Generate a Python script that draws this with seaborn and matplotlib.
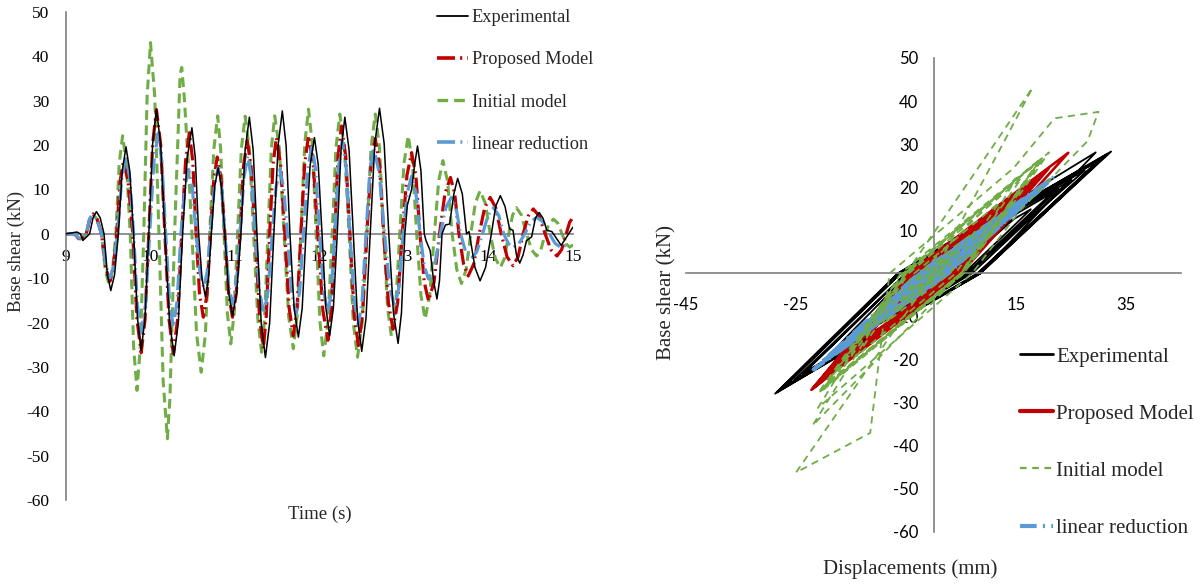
import matplotlib
matplotlib.use("Agg")
import matplotlib.pyplot as plt
import seaborn as sns
from matplotlib.lines import Line2D

# ---------------- data ----------------
series_names = ["Experimental", "Proposed Model", "Initial model", "linear reduction"]
time_ticks = [9, 10, 11, 12, 13, 14, 15]
shear_ticks = [-60, -50, -40, -30, -20, -10, 0, 10, 20, 30, 40, 50]
disp_ticks = [-45, -25, -5, 15, 35]

# Experimental: time (s), base shear (kN), displacement (mm)
exp_t = [9.00, 9.13, 9.17, 9.20, 9.28, 9.32, 9.36, 9.405, 9.45, 9.49, 9.53, 9.575, 9.62, 9.665,
         9.71, 9.755, 9.80, 9.845, 9.89, 9.935, 9.98, 10.025, 10.07, 10.12, 10.17, 10.225, 10.28,
         10.33, 10.38, 10.435, 10.49, 10.53, 10.57, 10.61, 10.65, 10.685, 10.72, 10.76, 10.80,
         10.84, 10.88, 10.925, 10.97, 11.02, 11.07, 11.12, 11.17, 11.215, 11.26, 11.31, 11.36,
         11.41, 11.46, 11.51, 11.56, 11.605, 11.65, 11.70, 11.75, 11.795, 11.84, 11.89, 11.94,
         11.985, 12.03, 12.075, 12.12, 12.165, 12.21, 12.255, 12.30, 12.35, 12.40, 12.45, 12.50,
         12.55, 12.60, 12.655, 12.71, 12.765, 12.82, 12.875, 12.93, 12.97, 13.01, 13.04, 13.09,
         13.125, 13.16, 13.20, 13.24, 13.26, 13.31, 13.35, 13.39, 13.42, 13.45, 13.49, 13.54,
         13.59, 13.635, 13.69, 13.74, 13.77, 13.84, 13.90, 13.965, 14.03, 14.085, 14.14, 14.195,
         14.25, 14.29, 14.33, 14.37, 14.41, 14.45, 14.51, 14.555, 14.60, 14.645, 14.69, 14.75,
         14.86, 15.00]
exp_v = [0.0, 0.4, 0.0, -1.5, 0.0, 3.6, 5.0, 3.6, 0.0, -9.2, -12.8, -9.2, 0.0, 14.1,
         19.6, 14.1, 0.0, -18.9, -26.3, -18.9, 0.0, 20.2, 28.1, 20.2, 0.0, -19.8, -27.5,
         -19.8, 0.0, 17.2, 23.9, 17.2, 0.0, -10.2, -14.2, -10.2, 0.0, 10.7, 14.9,
         10.7, 0.0, -13.3, -18.5, -13.3, 0.0, 18.9, 26.3, 18.9, 0.0, -20.1, -27.9,
         -20.1, 0.0, 19.9, 27.7, 19.9, 0.0, -16.8, -23.3, -16.8, 0.0, 15.6, 21.7,
         15.6, 0.0, -16.6, -23.0, -16.6, 0.0, 18.9, 26.3, 18.9, 0.0, -19.1, -26.5,
         -19.1, 0.0, 20.4, 28.3, 20.4, 0.0, -17.8, -24.7, -17.8, 0.0, 6.5, 10.0,
         15.5, 19.8, 14.3, 0.0, -1.5, -3.8, -10.6, -14.7, -10.6, 0.0, 2.0, 2.2,
         9.0, 12.5, 9.0, 0.0, 0.5, -7.6, -10.6, -7.6, -0.5, 6.2, 8.6, 6.2,
         1.1, 0.8, -4.7, -6.6, -4.7, -1.5, -0.7, 3.5, 4.8, 3.5, 0.8, 0.5,
         -2.6, 1.5]
exp_d = [0.0, 0.5, 0.3, -1.5, -1.0, 3.7, 5.5, 4.7, 2.5, -8.2, -12.4, -9.9, -3.5, 15.4,
         22.8, 18.2, 6.5, -17.7, -27.1, -21.3, -6.5, 19.4, 29.5, 23.6, 8.5, -18.1, -28.4,
         -22.1, -6.0, 18.1, 27.5, 21.5, 6.0, -8.4, -14.0, -10.8, -2.5, 12.0, 17.7,
         14.3, 5.5, -11.9, -18.6, -14.7, -4.5, 20.4, 30.1, 23.9, 8.0, -18.5, -28.8,
         -22.6, -6.5, 21.0, 31.6, 25.1, 8.5, -14.8, -23.8, -18.5, -5.0, 16.7, 25.1,
         20.0, 7.0, -15.0, -23.5, -18.3, -5.0, 20.3, 30.1, 23.9, 8.0, -17.4, -27.3,
         -21.3, -6.0, 21.6, 32.3, 25.6, 8.5, -15.8, -25.3, -19.6, -5.0, 2.5, 9.0,
         15.5, 22.5, 17.9, 6.0, 4.0, 0.5, -9.5, -14.5, -11.4, -3.5, -0.5, 1.0,
         10.0, 14.5, 11.4, 3.5, 3.0, -6.5, -10.5, -8.0, -2.5, 6.5, 10.0, 7.5,
         3.5, 2.5, -3.5, -6.0, -4.8, -2.5, -1.0, 4.0, 6.0, 5.0, 3.0, 2.0,
         -2.0, 1.0]

# Proposed Model
prop_t = [9.00, 9.10, 9.17, 9.24,
          9.28, 9.32, 9.37, 9.42, 9.47, 9.52, 9.56, 9.60, 9.64, 9.68, 9.735, 9.79,
          9.84, 9.89, 9.935, 9.98, 10.025, 10.07, 10.12, 10.17, 10.22, 10.27, 10.32, 10.37,
          10.415, 10.46, 10.50, 10.54, 10.58, 10.625, 10.67, 10.71, 10.75, 10.79, 10.835, 10.88,
          10.925, 10.97, 11.015, 11.06, 11.10, 11.145, 11.19, 11.24, 11.29, 11.335, 11.37, 11.41,
          11.45, 11.49, 11.54, 11.59, 11.64, 11.69, 11.735, 11.78, 11.825, 11.87, 11.925, 11.98,
          12.04, 12.10, 12.14, 12.18, 12.22, 12.26, 12.31, 12.36, 12.41, 12.46, 12.51, 12.56,
          12.61, 12.66, 12.71, 12.76, 12.815, 12.87, 12.925, 12.98, 13.035, 13.09, 13.14, 13.19,
          13.24, 13.29, 13.355, 13.42, 13.485, 13.55, 13.60, 13.65, 13.705, 13.76, 13.825, 13.89,
          13.955, 14.02, 14.085, 14.15, 14.22, 14.29, 14.35, 14.41, 14.47, 14.53, 14.60, 14.67,
          14.74, 14.81, 14.865, 14.92, 14.96, 15.00]
prop_v = [0.0, 0.0, -1.5, 0.0,
          3.2, 4.5, 3.2, 0.0, -7.7, -10.7, -7.7, 0.0, 11.8, 16.4, 11.8, 0.0,
          -19.3, -26.8, -19.3, 0.0, 20.2, 28.0, 20.2, 0.0, -19.4, -27.0, -19.4, 0.0,
          16.4, 22.8, 16.4, 0.0, -13.5, -18.8, -13.5, 0.0, 12.5, 17.3, 12.5, 0.0,
          -13.5, -18.8, -13.5, 0.0, 15.1, 21.0, 15.1, 0.0, -18.6, -25.9, -18.6, 0.0,
          15.6, 21.7, 15.6, 0.0, -16.6, -23.0, -16.6, 0.0, 15.9, 22.1, 15.9, 0.0,
          -17.3, -24.0, -17.3, 0.0, 17.5, 24.3, 17.5, 0.0, -18.1, -25.2, -18.1, 0.0,
          15.5, 21.5, 15.5, 0.0, -15.5, -21.5, -15.5, 0.0, 13.2, 18.3, 13.2, 0.0,
          -10.9, -15.1, -10.9, 0.0, 9.1, 12.7, 9.1, 0.0, -6.8, -9.5, -6.8, 0.0,
          5.9, 8.2, 5.9, 0.0, -5.2, -7.2, -5.2, 0.0, 4.0, 5.6, 4.0, 0.0,
          -3.6, -5.0, -3.6, 0.0, 2.6, 3.7]
prop_d = [0.0, 0.0, -1.0, -0.5,
          2.9, 4.2, 3.3, 1.0, -5.8, -8.5, -6.7, -2.0, 9.7, 14.3, 11.3, 3.5,
          -14.9, -22.0, -17.1, -4.5, 16.4, 24.5, 19.0, 5.0, -14.6, -22.2, -17.2, -4.5,
          12.9, 19.7, 15.2, 3.7, -10.0, -15.3, -11.9, -3.3, 9.9, 15.0, 11.7, 3.3,
          -10.1, -15.3, -12.0, -3.5, 12.1, 18.1, 14.2, 4.2, -14.2, -21.3, -16.5, -4.2,
          12.3, 18.7, 14.6, 4.0, -12.4, -18.8, -14.7, -4.0, 12.6, 19.1, 14.9, 4.2,
          -13.0, -19.7, -15.4, -4.3, 13.8, 20.9, 16.3, 4.5, -13.6, -20.7, -16.1, -4.2,
          12.2, 18.6, 14.5, 3.9, -11.6, -17.6, -13.7, -3.6, 10.4, 15.9, 12.3, 3.0,
          -7.9, -12.2, -9.5, -2.5, 7.4, 11.2, 8.6, 2.0, -4.8, -7.5, -5.9, -1.6,
          4.9, 7.4, 5.7, 1.4, -3.6, -5.6, -4.3, -1.1, 3.4, 5.2, 4.0, 1.0,
          -2.4, -3.7, -2.9, -0.8, 2.4, 3.6]

# Initial model
init_t = [9.00, 9.10, 9.17, 9.24,
          9.28, 9.32, 9.37, 9.42, 9.465, 9.51, 9.55, 9.59, 9.63, 9.67, 9.715, 9.76,
          9.80, 9.84, 9.88, 9.92, 9.96, 10.00, 10.05, 10.10,
          10.15, 10.20, 10.23, 10.285, 10.33, 10.35, 10.37, 10.40, 10.45, 10.49,
          10.545, 10.60, 10.65, 10.70, 10.75, 10.795, 10.83, 10.87, 10.91, 10.95, 10.99, 11.03,
          11.075, 11.12, 11.17, 11.22, 11.27, 11.315, 11.35, 11.39, 11.43, 11.47, 11.525, 11.58,
          11.635, 11.69, 11.735, 11.78, 11.825, 11.87, 11.915, 11.96, 12.005, 12.05, 12.10, 12.15,
          12.195, 12.24, 12.295, 12.35, 12.40, 12.45, 12.505, 12.56, 12.61, 12.66, 12.71, 12.76,
          12.805, 12.85, 12.90, 12.95, 13.00, 13.05, 13.10, 13.15, 13.20, 13.25, 13.305, 13.36,
          13.41, 13.46, 13.515, 13.57, 13.625, 13.68, 13.735, 13.79, 13.845, 13.90, 13.96, 14.02,
          14.08, 14.14, 14.19, 14.24, 14.285, 14.33, 14.39, 14.45, 14.51, 14.57, 14.62, 14.67,
          14.72, 14.77, 14.82, 14.87, 14.915, 14.96, 15.00]
init_v = [0.0, 0.0, -1.2, 0.0,
          3.2, 4.4, 3.2, 0.0, -8.3, -11.5, -8.3, 0.0, 15.9, 22.1, 15.9, 0.0,
          -25.4, -35.3, -25.4, 0.0, 31.0, 43.1, 31.0, 0.0,
          -33.3, -46.2, -37.0, 0.0, 24.5, 36.0, 37.5, 30.7, 15.0, 0.0,
          -22.5, -31.2, -22.5, 0.0, 19.2, 26.6, 19.2, 0.0, -17.9, -24.8, -17.9, 0.0,
          19.1, 26.5, 19.1, 0.0, -19.2, -26.7, -19.2, 0.0, 19.2, 26.6, 19.2, 0.0,
          -18.6, -25.9, -18.6, 0.0, 20.2, 28.1, 20.2, 0.0, -19.8, -27.5, -19.8, 0.0,
          19.4, 27.0, 19.4, 0.0, -20.0, -27.8, -20.0, 0.0, 19.4, 27.0, 19.4, 0.0,
          -16.6, -23.0, -16.6, 0.0, 15.9, 22.1, 15.9, 0.0, -13.8, -19.2, -13.8, 0.0,
          11.9, 16.5, 11.9, 0.0, -8.1, -11.2, -8.1, 0.0, 7.0, 9.7, 7.0, 0.0,
          -5.5, -7.6, -5.5, 0.0, 4.2, 5.9, 4.2, 0.0, -3.6, -5.0, -3.6, 0.0,
          2.4, 3.3, 2.4, 0.0, -2.2, -3.0, -2.5]
init_d = [0.0, 0.0, -0.9, -0.3,
          2.4, 3.4, 2.7, 1.0, -6.1, -8.8, -7.0, -2.5, 10.1, 15.0, 12.2, 5.0,
          -14.4, -22.0, -17.2, -5.0, 11.6, 18.0, 13.0, 0.0,
          -18.0, -25.0, -11.5, -8.0, 14.6, 22.0, 30.0, 28.0, 16.0, 7.0,
          -13.2, -21.0, -16.8, -6.0, 12.4, 19.5, 15.4, 5.0, -11.9, -18.5, -14.7, -5.0,
          12.6, 19.5, 15.4, 5.0, -13.0, -20.0, -15.8, -5.0, 12.6, 19.5, 15.4, 5.0,
          -12.6, -19.5, -15.4, -5.0, 13.7, 21.0, 16.7, 5.5, -13.2, -20.5, -16.3, -5.5,
          12.9, 20.0, 15.9, 5.5, -13.6, -21.0, -16.7, -5.5, 12.9, 20.0, 15.8, 5.0,
          -10.8, -17.0, -13.5, -4.5, 10.3, 16.0, 12.6, 4.0, -9.0, -14.0, -11.1, -3.5,
          7.7, 12.0, 9.5, 3.0, -5.3, -8.5, -6.7, -2.0, 4.8, 7.5, 5.9, 1.8,
          -3.8, -6.0, -4.7, -1.3, 2.9, 4.5, 3.5, 1.0, -2.6, -4.0, -3.1, -0.8,
          1.6, 2.5, 2.0, 0.6, -1.6, -2.4, -2.0]

# linear reduction
lin_t = [9.00, 9.10, 9.17, 9.24,
         9.275, 9.31, 9.365, 9.42, 9.47, 9.52, 9.565, 9.61, 9.66, 9.71, 9.755, 9.80,
         9.845, 9.89, 9.94, 9.99, 10.04, 10.09, 10.135, 10.18, 10.225, 10.27, 10.315, 10.36,
         10.405, 10.45, 10.495, 10.54, 10.585, 10.63, 10.67, 10.71, 10.755, 10.80, 10.84, 10.88,
         10.925, 10.97, 11.015, 11.06, 11.105, 11.15, 11.195, 11.24, 11.29, 11.34, 11.39, 11.44,
         11.485, 11.53, 11.575, 11.62, 11.67, 11.72, 11.765, 11.81, 11.86, 11.91, 11.955, 12.00,
         12.05, 12.10, 12.14, 12.18, 12.225, 12.27, 12.315, 12.36, 12.41, 12.46, 12.505, 12.55,
         12.595, 12.64, 12.705, 12.77, 12.83, 12.89, 12.94, 12.99, 13.04, 13.09, 13.14, 13.19,
         13.24, 13.29, 13.36, 13.43, 13.495, 13.56, 13.615, 13.67, 13.73, 13.79, 13.86, 13.93,
         13.995, 14.06, 14.12, 14.18, 14.235, 14.29, 14.36, 14.43, 14.50, 14.57, 14.645, 14.72,
         14.79, 14.86, 14.95]
lin_v = [0.0, 0.0, -1.2, 0.0,
         3.2, 4.4, 3.2, 0.0, -7.1, -9.9, -7.1, 0.0, 12.5, 17.4, 12.5, 0.0,
         -16.1, -22.3, -16.1, 0.0, 16.2, 22.5, 16.2, 0.0, -15.1, -21.0, -15.1, 0.0,
         10.4, 14.5, 10.4, 0.0, -8.7, -12.1, -8.7, 0.0, 10.7, 14.9, 10.7, 0.0,
         -11.4, -15.8, -11.4, 0.0, 12.6, 17.5, 12.6, 0.0, -13.0, -18.0, -13.0, 0.0,
         10.4, 14.5, 10.4, 0.0, -13.0, -18.0, -13.0, 0.0, 14.4, 20.0, 14.4, 0.0,
         -13.0, -18.0, -13.0, 0.0, 15.1, 21.0, 15.1, 0.0, -14.9, -20.7, -14.9, 0.0,
         14.0, 19.5, 14.0, 0.0, -12.0, -16.6, -12.0, 0.0, 9.4, 13.0, 9.4, 0.0,
         -7.3, -10.2, -7.3, 0.0, 5.9, 8.2, 5.9, 0.0, -4.1, -5.7, -4.1, 0.0,
         4.2, 5.9, 4.2, 0.0, -2.2, -3.1, -2.2, 0.0, 2.7, 3.7, 2.7, 0.0,
         -2.2, -3.1, -2.3]
lin_d = [0.0, 0.0, -1.1, -0.3,
         3.0, 4.3, 3.3, 0.8, -6.8, -9.7, -7.4, -1.6, 11.8, 17.0, 12.9, 2.4,
         -15.0, -21.8, -16.5, -2.7, 15.1, 22.0, 16.6, 2.7, -14.1, -20.6, -15.4, -2.1,
         9.6, 14.2, 10.7, 1.6, -8.1, -11.9, -9.0, -1.6, 10.1, 14.6, 11.0, 1.8,
         -10.7, -15.5, -11.7, -2.0, 11.8, 17.2, 13.0, 2.1, -12.1, -17.6, -13.2, -1.9,
         9.7, 14.2, 10.7, 1.9, -12.1, -17.6, -13.3, -2.3, 13.5, 19.6, 14.8, 2.3,
         -12.0, -17.6, -13.3, -2.4, 14.2, 20.6, 15.5, 2.5, -13.9, -20.3, -15.3, -2.4,
         13.1, 19.1, 14.4, 2.2, -11.1, -16.3, -12.2, -1.8, 8.6, 12.7, 9.5, 1.4,
         -6.8, -10.0, -7.5, -1.1, 5.5, 8.0, 6.0, 0.8, -3.8, -5.6, -4.2, -0.7,
         4.0, 5.8, 4.3, 0.5, -2.0, -3.0, -2.3, -0.4, 2.5, 3.6, 2.7, 0.4,
         -2.0, -3.0, -2.2]

# ---------------- style ----------------
sns.set_theme(style="white")
plt.rcParams["font.family"] = ["Liberation Serif", "DejaVu Serif"]
plt.rcParams["axes.unicode_minus"] = False

BLACK, RED, GREEN, BLUE = "#000000", "#C00000", "#70AD47", "#5B9BD5"
AXIS_GRAY = "#7F7F7F"

ls_red = (0, (5, 1.4, 0.6, 1.4))
ls_green = (0, (3.2, 1.8))
ls_blue = (0, (5, 1.5, 0.5, 1.5))

fig = plt.figure(figsize=(12, 5.84), dpi=100)
fig.patch.set_facecolor("white")

# ---------------- left panel: time history ----------------
ax1 = fig.add_axes([66 / 1200, 84 / 584, 507 / 1200, 488 / 584])
sns.lineplot(x=init_t, y=init_v, ax=ax1, color=GREEN, linewidth=2.2, linestyle=ls_green,
             sort=False, estimator=None, zorder=2)
sns.lineplot(x=prop_t, y=prop_v, ax=ax1, color=RED, linewidth=2.3, linestyle=ls_red,
             sort=False, estimator=None, zorder=3)
sns.lineplot(x=lin_t, y=lin_v, ax=ax1, color=BLUE, linewidth=2.3, linestyle=ls_blue,
             sort=False, estimator=None, zorder=4)
sns.lineplot(x=exp_t, y=exp_v, ax=ax1, color=BLACK, linewidth=1.1,
             sort=False, estimator=None, zorder=5)

ax1.set_xlim(9, 15)
ax1.set_ylim(-60, 50)
ax1.set_xticks(time_ticks)
ax1.set_yticks(shear_ticks)
for s in ["top", "right"]:
    ax1.spines[s].set_visible(False)
ax1.spines["bottom"].set_position(("data", 0))
for s in ["bottom", "left"]:
    ax1.spines[s].set_color(AXIS_GRAY)
    ax1.spines[s].set_linewidth(1.2)
ax1.tick_params(axis="both", length=0, labelsize=12.5, colors="black")
ax1.tick_params(axis="x", pad=11)
ax1.tick_params(axis="y", pad=12)
ax1.set_xlabel("Time (s)", fontsize=13.5)
ax1.set_ylabel("Base shear (kN)", fontsize=13.5)
ax1.xaxis.set_label_coords(0.5, -0.012)
ax1.yaxis.set_label_coords(-0.08, 0.51)

leg1_handles = [
    Line2D([], [], color=BLACK, lw=1.3),
    Line2D([], [], color=RED, lw=2.6, linestyle=ls_red),
    Line2D([], [], color=GREEN, lw=2.4, linestyle=ls_green),
    Line2D([], [], color=BLUE, lw=2.6, linestyle=ls_blue),
]
fig.legend(leg1_handles, series_names, loc="upper left",
           bbox_to_anchor=(437 / 1200, 1 - 9 / 584), bbox_transform=fig.transFigure,
           frameon=False, fontsize=13.2, borderpad=0, borderaxespad=0,
           handlelength=1.7, handletextpad=0.2, labelspacing=1.38)

# ---------------- right panel: hysteresis ----------------
ax2 = fig.add_axes([686 / 1200, 52 / 584, 495 / 1200, 474 / 584])
ax2.set_axisbelow(True)
sns.lineplot(x=exp_d, y=exp_v, ax=ax2, color=BLACK, linewidth=1.3,
             sort=False, estimator=None, zorder=2)
sns.lineplot(x=prop_d, y=prop_v, ax=ax2, color=RED, linewidth=1.9,
             sort=False, estimator=None, zorder=3)
sns.lineplot(x=lin_d, y=lin_v, ax=ax2, color=BLUE, linewidth=2.8, linestyle=ls_blue,
             sort=False, estimator=None, zorder=4)
sns.lineplot(x=init_d, y=init_v, ax=ax2, color=GREEN, linewidth=1.3, linestyle=(0, (4, 3)),
             sort=False, estimator=None, zorder=5)

ax2.set_xlim(-45, 45)
ax2.set_ylim(-60, 50)
ax2.set_xticks(disp_ticks)
ax2.set_yticks(shear_ticks)
for s in ["top", "right"]:
    ax2.spines[s].set_visible(False)
ax2.spines["bottom"].set_position(("data", 0))
ax2.spines["left"].set_position(("data", 0))
for s in ["bottom", "left"]:
    ax2.spines[s].set_color(AXIS_GRAY)
    ax2.spines[s].set_linewidth(1.2)
ax2.tick_params(axis="both", length=0, labelsize=12, colors="black", labelfontfamily="Lato")
ax2.tick_params(axis="x", pad=17)
ax2.tick_params(axis="y", pad=11)
ax2.set_xlabel("Displacements (mm)", fontsize=15)
ax2.set_ylabel("Base shear (kN)", fontsize=15)
ax2.xaxis.set_label_coords(0.4525, -0.058)
ax2.yaxis.set_label_coords(-0.02, 0.505)

leg2_handles = [
    Line2D([], [], color=BLACK, lw=2.0),
    Line2D([], [], color=RED, lw=3.0),
    Line2D([], [], color=GREEN, lw=1.6, linestyle=(0, (3, 2.5))),
    Line2D([], [], color=BLUE, lw=3.0, linestyle=(0, (4, 1.5, 0.5, 1.5))),
]
fig.legend(leg2_handles, series_names, loc="upper left",
           bbox_to_anchor=(1020 / 1200, 1 - 347 / 584), bbox_transform=fig.transFigure,
           frameon=False, fontsize=15, borderpad=0, borderaxespad=0,
           handlelength=1.6, handletextpad=0.15, labelspacing=1.8)

fig.savefig("out.png", dpi=100, facecolor="white")
